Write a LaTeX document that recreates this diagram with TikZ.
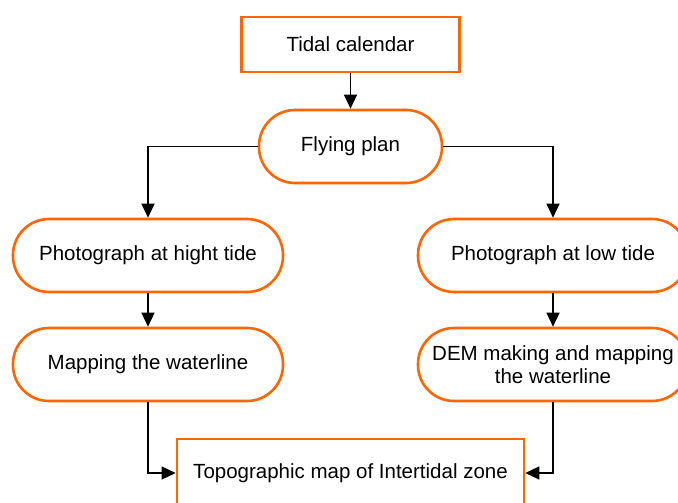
\documentclass[tikz,border=0pt]{standalone}
\usepackage{fontspec}
\setmainfont{Liberation Sans}
\usetikzlibrary{arrows.meta}
\definecolor{borange}{RGB}{255,102,0}
\tikzset{
  box/.style={draw=borange, line width=2.6pt, fill=white, font=\fontsize{20.5}{23}\selectfont, align=center, inner sep=0pt},
  stadium/.style={box, rounded corners=36pt, minimum height=73pt},
  conn/.style={draw=black, line width=1.3pt, -{Triangle[length=14pt,width=13pt]}}
}
\begin{document}
\begin{tikzpicture}[x=1pt,y=-1pt]
\useasboundingbox (0,0) rectangle (678,503);
\clip (0,0) rectangle (678,503);
\node[box, minimum width=218pt, minimum height=55pt] (tidal) at (350.5,44.5) {Tidal calendar};
\node[stadium, minimum width=183pt] (fly) at (350.5,146.5) {Flying plan};
\node[stadium, minimum width=270pt] (ph) at (148,255.5) {Photograph at hight tide};
\node[stadium, minimum width=270pt] (pl) at (553,255.5) {Photograph at low tide};
\node[stadium, minimum width=270pt] (mw) at (148,364.5) {Mapping the waterline};
\node[stadium, minimum width=270pt] (dem) at (553,364.5) {DEM making and mapping\\the waterline};
\node[box, minimum width=347pt, minimum height=68pt] (topo) at (350.5,473) {Topographic map of Intertidal zone};
\draw[conn] (tidal.south) -- (fly.north);
\draw[conn] (fly.west) -| (ph.north);
\draw[conn] (fly.east) -| (pl.north);
\draw[conn] (ph.south) -- (mw.north);
\draw[conn] (pl.south) -- (dem.north);
\draw[conn] (mw.south) |- (topo.west);
\draw[conn] (dem.south) |- (topo.east);
\end{tikzpicture}
\end{document}
